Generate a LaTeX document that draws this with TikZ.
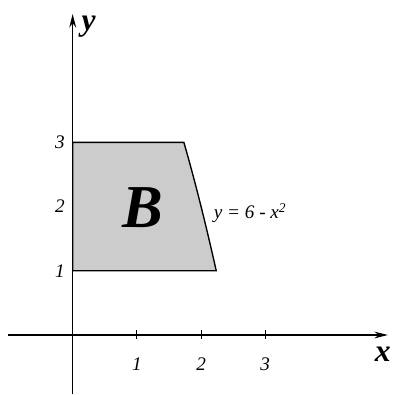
\documentclass[tikz,border=0pt]{standalone}
\usepackage{fontspec}
\setmainfont{Liberation Serif}
\usetikzlibrary{arrows.meta, positioning}

\begin{document}
\begin{tikzpicture}[
    axis/.style={-{Stealth[length=6pt,width=3pt]}, line width=0.6pt},
    region/.style={fill=black!20, draw=black, line width=0.6pt},
    tick/.style={line width=0.4pt},
    ticklabel/.style={font=\fontsize{8.5}{10}\selectfont\itshape},
    axislabel/.style={font=\fontsize{14}{16}\selectfont\bfseries\itshape}
]
    \useasboundingbox (-1.132,-0.919) rectangle (5.036,5.218);

    % Region B
    \draw[region] (0,1) -- (0,3) -- ({sqrt(3)},3)
        -- plot[domain=3:1, samples=30, variable=\t] ({sqrt(6-\t)},\t) -- cycle;

    % Axes
    \coordinate (xstart) at (-1.0,0);
    \coordinate (xend) at (4.91,0);
    \coordinate (ystart) at (0,-0.92);
    \coordinate (yend) at (0,5.0);
    \draw[axis] (xstart) -- (xend);
    \draw[axis] (ystart) -- (yend);

    \node[axislabel] (xlab) at (4.83,-0.3) {x};
    \node[axislabel] (ylab) at (0.25,4.8) {y};

    % Ticks on x
    \foreach \i in {1,2,3} {
        \draw[tick] (\i,-0.06) -- (\i,0.08);
        \node[ticklabel] (xt\i) at (\i,-0.45) {\i};
    }

    % Labels on y
    \foreach \i in {1,2,3} {
        \node[ticklabel] (yt\i) at (-0.2,\i) {\i};
    }

    % Region and curve labels
    \node[font=\fontsize{27}{30}\selectfont\bfseries\itshape] (B) at (1.09,1.99) {B};
    \node[ticklabel, right=0.05cm of {({sqrt(4.1)},1.9)}] (curve) {y = 6 - x\textsuperscript{2}};
\end{tikzpicture}
\end{document}
